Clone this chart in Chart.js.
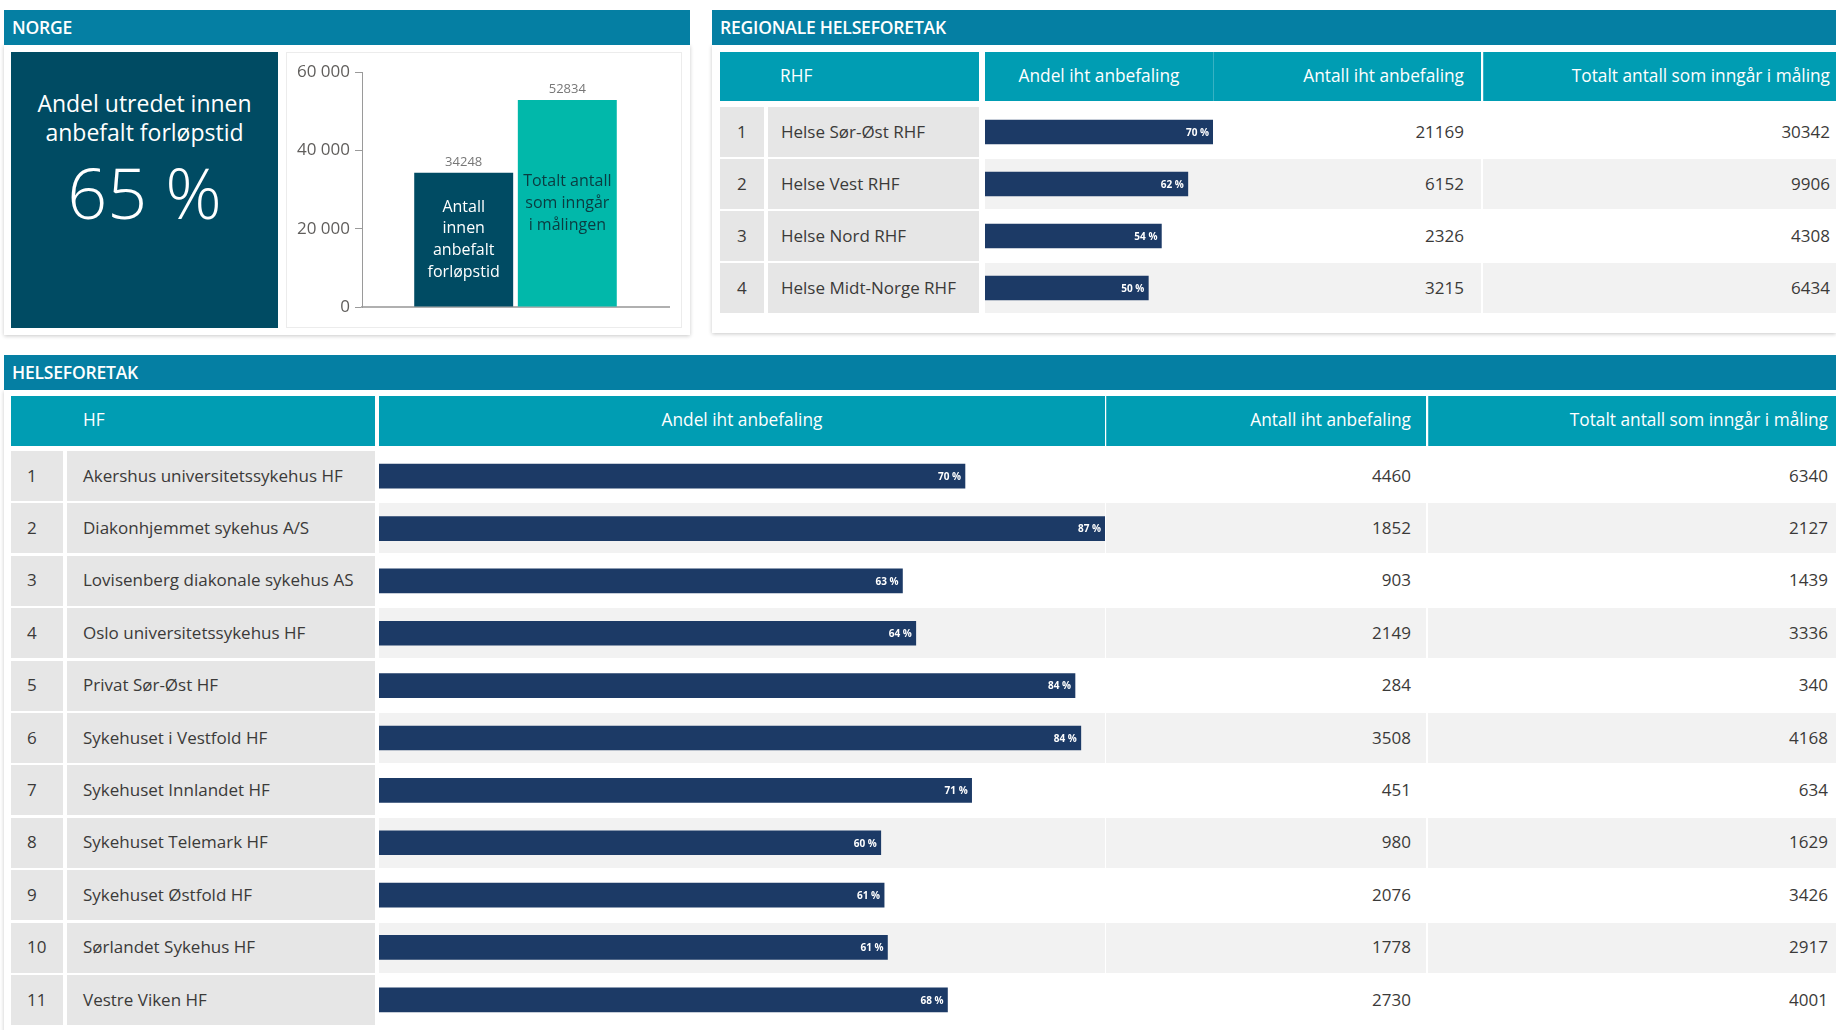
<!DOCTYPE html>
<html lang="no">
<head>
<meta charset="utf-8">
<title>Utredet innen anbefalt forløpstid</title>
<script src="https://cdn.jsdelivr.net/npm/chart.js@4.4.1/dist/chart.umd.min.js"></script>
<style>
  html, body { margin: 0; padding: 0; background: #fff; }
  #page { position: relative; width: 1836px; height: 1030px; overflow: hidden; font-family: 'Open Sans', 'Noto Sans', sans-serif; color: #3b3a39; }
  .abs { position: absolute; box-sizing: border-box; white-space: nowrap; }
  .panel { background: #fff; box-shadow: 0 1px 4px rgba(0,0,0,.22); }
  .bar-head { background: #057fa3; color: #fff; font-size: 17.5px; font-weight: 600; letter-spacing: -0.2px; display: flex; align-items: center; padding-left: 8px; padding-bottom: 1px; }
  .th { background: #009db3; color: #fff; font-size: 17.3px; display: flex; align-items: center; padding-bottom: 3px; }
  .cell { font-size: 17px; display: flex; align-items: center; padding-bottom: 2px; }
  .center { justify-content: center; }
  .right { justify-content: flex-end; }
  .sep { border-left: 1px solid rgba(255,255,255,.22); }
  .gray { background: #e6e6e6; }
  .stripe { background: #f2f2f2; }
  .kpi { background: #004b63; color: #fff; text-align: center; }
  .kpi-title { font-size: 23px; line-height: 29px; white-space: pre-line; position: absolute; left: 0; right: 0; top: 37px; }
  .kpi-value { font-size: 70px; font-weight: 300; line-height: 76px; position: absolute; left: 0; right: 0; top: 102px; }
  canvas { position: absolute; }
</style>
</head>
<body>
<div id="page"></div>
<script>
// ---- data ----
const kpiTitle = 'Andel utredet innen\nanbefalt forløpstid';
const kpiValue = '65 %';

const norgeLabels = [['Antall', 'innen', 'anbefalt', 'forløpstid'], ['Totalt antall', 'som inngår', 'i målingen']];
const norgeValues = [34248, 52834];
const norgeTicks = [0, 20000, 40000, 60000];

const rhfNames = ['Helse Sør-Øst RHF', 'Helse Vest RHF', 'Helse Nord RHF', 'Helse Midt-Norge RHF'];
const rhfAndel = [69.8, 62.1, 54.0, 50.0];
const rhfAntall = [21169, 6152, 2326, 3215];
const rhfTotalt = [30342, 9906, 4308, 6434];

const hfNames = [
  'Akershus universitetssykehus HF', 'Diakonhjemmet sykehus A/S', 'Lovisenberg diakonale sykehus AS',
  'Oslo universitetssykehus HF', 'Privat Sør-Øst HF', 'Sykehuset i Vestfold HF', 'Sykehuset Innlandet HF',
  'Sykehuset Telemark HF', 'Sykehuset Østfold HF', 'Sørlandet Sykehus HF', 'Vestre Viken HF'
];
const hfAndel = [70.3, 87.1, 62.8, 64.4, 83.5, 84.2, 71.1, 60.2, 60.6, 61.0, 68.2];
const hfAntall = [4460, 1852, 903, 2149, 284, 3508, 451, 980, 2076, 1778, 2730];
const hfTotalt = [6340, 2127, 1439, 3336, 340, 4168, 634, 1629, 3426, 2917, 4001];

const colHeads = ['Andel iht anbefaling', 'Antall iht anbefaling', 'Totalt antall som inngår i måling'];

// ---- helpers ----
const $ = (id) => document.getElementById(id);
const FONT = "'Open Sans', 'Noto Sans', sans-serif";
const spaced = (v) => String(v).replace(/\B(?=(\d{3})+(?!\d))/g, ' ');

function box(cls, x, y, w, h, text, style) {
  const d = document.createElement('div');
  d.className = 'abs ' + cls;
  Object.assign(d.style, { left: x + 'px', top: y + 'px', width: w + 'px', height: h + 'px' }, style || {});
  if (text !== undefined) d.textContent = text;
  $('page').appendChild(d);
  return d;
}

function canvasAt(x, y, w, h) {
  const c = document.createElement('canvas');
  c.width = w; c.height = h;
  Object.assign(c.style, { left: x + 'px', top: y + 'px', width: w + 'px', height: h + 'px' });
  $('page').appendChild(c);
  return c;
}

// percent labels inside the end of each data bar
const pctLabels = {
  id: 'pctLabels',
  afterDatasetsDraw(chart) {
    const { ctx } = chart;
    const vals = chart.data.datasets[0].data;
    ctx.save();
    ctx.font = 'bold 10px ' + FONT;
    ctx.fillStyle = '#fff';
    ctx.textAlign = 'right';
    ctx.textBaseline = 'middle';
    chart.getDatasetMeta(0).data.forEach((bar, k) => ctx.fillText(Math.round(vals[k]) + ' %', bar.x - 4, bar.y + 1));
    ctx.restore();
  }
};

function dataBars(canvas, names, values) {
  return new Chart(canvas, {
    type: 'bar',
    data: { labels: names, datasets: [{ data: values, backgroundColor: '#1c3a66', barThickness: 24 }] },
    options: {
      indexAxis: 'y',
      responsive: false,
      animation: false,
      layout: { padding: 0 },
      plugins: { legend: { display: false }, tooltip: { enabled: false } },
      scales: {
        x: { display: false, min: 0, max: Math.max(...values) },
        y: { display: false }
      }
    },
    plugins: [pctLabels]
  });
}

function buildTable(cfg, names, andel, antall, totalt) {
  const { head, cols, rowTop, pitch, rowH } = cfg;
  box('th', cols.idx[0], head.top, cols.name[0] + cols.name[1] - cols.idx[0], head.h, head.first, { paddingLeft: head.firstPad + 'px' });
  box('th center', cols.andel[0], head.top, cols.andel[1], head.h, colHeads[0]);
  box('th right sep', cols.antall[0], head.top, cols.antall[1], head.h, colHeads[1], { paddingRight: cfg.padAntall + 'px' });
  box('th right sep', cols.totalt[0], head.top, cols.totalt[1], head.h, colHeads[2], { paddingRight: cfg.padTotalt + 'px' });
  names.forEach((n, i) => {
    const y = rowTop + i * pitch;
    const s = i % 2 ? ' stripe' : '';
    box('cell gray', cols.idx[0], y, cols.idx[1], rowH, String(i + 1), { paddingLeft: cfg.padIdx + 'px' });
    box('cell gray', cols.name[0], y, cols.name[1], rowH, n, { paddingLeft: cfg.padName + 'px' });
    box('cell' + s, cols.andel[0], y, cols.andel[1], rowH);
    box('cell right' + s, cols.antall[0], y, cols.antall[1], rowH, String(antall[i]), { paddingRight: cfg.padAntall + 'px' });
    box('cell right' + s, cols.totalt[0], y, cols.totalt[1], rowH, String(totalt[i]), { paddingRight: cfg.padTotalt + 'px' });
  });
  const h = Math.round(pitch * names.length);
  dataBars(canvasAt(cols.andel[0], rowTop - 1, cols.andel[1], h), names, andel);
}

// ---- NORGE ----
box('panel', 4, 45, 686, 290);
box('bar-head', 4, 10, 686, 35, 'NORGE');
const kpi = box('kpi', 11, 52, 267, 276);
const kt = document.createElement('div'); kt.className = 'kpi-title'; kt.textContent = kpiTitle; kpi.appendChild(kt);
const kv = document.createElement('div'); kv.className = 'kpi-value'; kv.textContent = kpiValue; kpi.appendChild(kv);
box('', 286, 52, 396, 276, undefined, { border: '1px solid #ececec' });

const norgeColors = ['#004b63', '#01b8aa'];
const norgeText = ['#ffffff', '#0b3b40'];
const norgeBarLabels = {
  id: 'norgeBarLabels',
  afterDatasetsDraw(chart) {
    const { ctx } = chart;
    chart.data.datasets.forEach((ds, i) => {
      const bar = chart.getDatasetMeta(i).data[0];
      ctx.save();
      ctx.textAlign = 'center';
      ctx.textBaseline = 'middle';
      ctx.font = '13px ' + FONT;
      ctx.fillStyle = '#777';
      ctx.fillText(String(ds.data[0]), bar.x, bar.y - 10.5);
      const lines = norgeLabels[i];
      const mid = (bar.y + bar.base) / 2;
      ctx.font = '16px ' + FONT;
      ctx.fillStyle = norgeText[i];
      lines.forEach((ln, k) => ctx.fillText(ln, bar.x, mid + (k - (lines.length - 1) / 2) * 21.7));
      ctx.restore();
    });
  }
};

new Chart(canvasAt(286, 52, 396, 276), {
  type: 'bar',
  data: {
    labels: [''],
    datasets: norgeValues.map((v, i) => ({
      label: norgeLabels[i].join(' '), data: [v], backgroundColor: norgeColors[i],
      categoryPercentage: 0.675, barPercentage: 0.955
    }))
  },
  options: {
    responsive: false,
    animation: false,
    layout: { padding: { top: 20, bottom: 21, left: 0, right: 13 } },
    plugins: { legend: { display: false }, tooltip: { enabled: false } },
    scales: {
      x: {
        grid: { display: false }, ticks: { display: false },
        border: { color: '#b0b0b0', width: 2 },
        afterFit: (s) => { s.height = 0; }
      },
      y: {
        min: norgeTicks[0], max: norgeTicks[norgeTicks.length - 1],
        afterBuildTicks: (s) => { s.ticks = norgeTicks.map((v) => ({ value: v })); },
        ticks: { color: '#605e5c', font: { family: FONT, size: 17 }, padding: 5, callback: (v) => spaced(v) },
        grid: { drawOnChartArea: false, tickLength: 7, color: '#9a9a9a' },
        border: { color: '#9a9a9a', width: 1 },
        afterFit: (s) => { s.width = 76; }
      }
    }
  },
  plugins: [norgeBarLabels]
});

// ---- REGIONALE HELSEFORETAK ----
box('panel', 712, 45, 1124, 288);
box('bar-head', 712, 10, 1124, 35, 'REGIONALE HELSEFORETAK');
buildTable({
  head: { top: 52, h: 49, first: 'RHF', firstPad: 60 },
  cols: { idx: [720, 44], name: [768, 211], andel: [985, 228], antall: [1213, 268], totalt: [1483, 353] },
  rowTop: 107, pitch: 52, rowH: 50,
  padIdx: 17, padName: 13, padAntall: 17, padTotalt: 6
}, rhfNames, rhfAndel, rhfAntall, rhfTotalt);

// ---- HELSEFORETAK ----
box('panel', 4, 390, 1832, 700);
box('bar-head', 4, 355, 1832, 35, 'HELSEFORETAK');
buildTable({
  head: { top: 396, h: 50, first: 'HF', firstPad: 72 },
  cols: { idx: [11, 52], name: [67, 308], andel: [379, 726], antall: [1106, 320], totalt: [1428, 408] },
  rowTop: 451, pitch: 52.4, rowH: 50,
  padIdx: 16, padName: 16, padAntall: 15, padTotalt: 8
}, hfNames, hfAndel, hfAntall, hfTotalt);
</script>
</body>
</html>
